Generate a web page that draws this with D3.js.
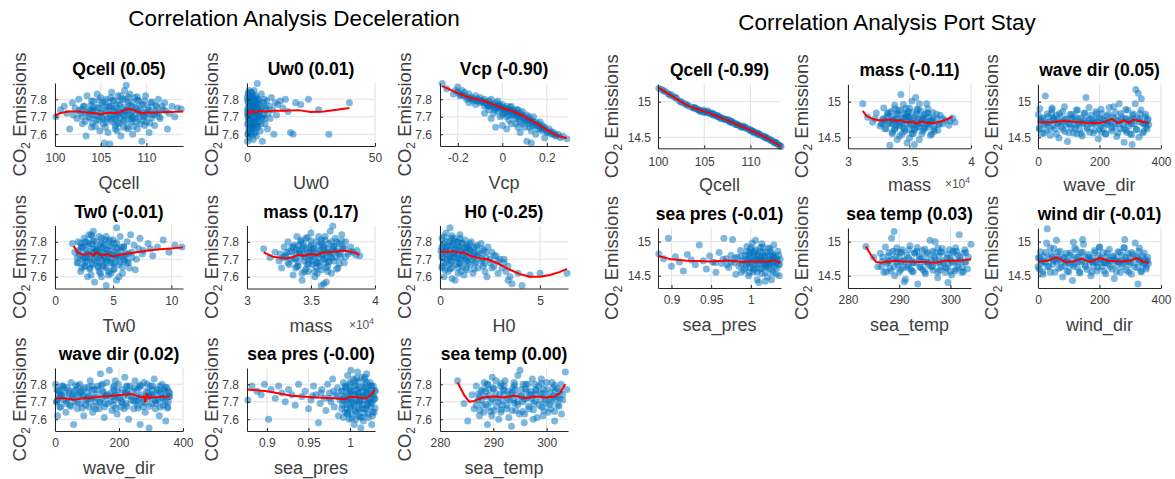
<!DOCTYPE html>
<html><head><meta charset="utf-8">
<script src="https://cdn.jsdelivr.net/npm/d3@7"></script>
<style>body{margin:0;background:#fff} text{font-family:"Liberation Sans",Arial,sans-serif}</style>
</head><body><svg id="c" width="1175" height="479"></svg>
<script>
// ---------------- DATA ----------------
const figTitles = ["Correlation Analysis Deceleration", "Correlation Analysis Port Stay"];
const yLabel = "CO";
const yTicksDecel = [7.6, 7.7, 7.8];
const yTicksPort = [14.5, 15];

// Deceleration panels
const dQcell = [[100.1,7.70],[100.6,7.74],[101.0,7.76],[101.3,7.72],[101.6,7.63],[101.9,7.78],[102.2,7.75],[102.4,7.69],[102.6,7.80],[102.8,7.72],[103.0,7.66],[103.2,7.76],[103.4,7.59],[103.5,7.82],[103.7,7.70],[103.9,7.74],[104.0,7.64],[104.2,7.79],[104.3,7.71],[104.5,7.68],[104.6,7.83],[104.8,7.75],[104.9,7.62],[105.0,7.72],[105.2,7.78],[105.3,7.66],[105.4,7.55],[105.5,7.74],[105.6,7.80],[105.7,7.69],[105.8,7.61],[105.9,7.76],[106.0,7.545],[106.1,7.71],[106.2,7.84],[106.3,7.67],[106.4,7.79],[106.5,7.73],[106.6,7.63],[106.7,7.75],[106.8,7.70],[106.9,7.82],[107.0,7.66],[107.1,7.77],[107.2,7.59],[107.3,7.72],[107.4,7.80],[107.5,7.68],[107.6,7.85],[107.7,7.74],[107.8,7.88],[107.9,7.64],[108.0,7.78],[108.1,7.71],[108.2,7.83],[108.3,7.67],[108.4,7.76],[108.5,7.60],[108.6,7.73],[108.7,7.81],[108.8,7.69],[108.9,7.75],[109.0,7.63],[109.1,7.79],[109.2,7.72],[109.3,7.66],[109.5,7.56],[109.6,7.77],[109.7,7.70],[109.9,7.82],[110.0,7.67],[110.2,7.74],[110.3,7.61],[110.5,7.78],[110.7,7.71],[110.9,7.65],[111.1,7.76],[111.3,7.80],[111.5,7.69],[111.8,7.74],[112.0,7.78],[112.3,7.63],[112.5,7.72],[112.8,7.76],[113.1,7.70],[113.4,7.75],[113.8,7.745],[104.1,7.73],[105.1,7.70],[106.05,7.76],[106.55,7.69],[107.05,7.73],[107.55,7.71],[108.05,7.74],[108.45,7.70],[109.45,7.73],[110.1,7.72],[103.6,7.73],[102.0,7.71],[111.0,7.73]];
const dQcellDense = [[103.3,7.675],[104.1,7.665],[104.8,7.68],[105.6,7.67],[106.2,7.685],[106.9,7.665],[107.6,7.675],[108.3,7.685],[108.9,7.67],[109.6,7.68],[110.4,7.665],[103.0,7.70],[103.8,7.695],[104.5,7.705],[105.2,7.69],[105.9,7.70],[106.5,7.71],[107.1,7.695],[107.8,7.705],[108.5,7.695],[109.2,7.70],[109.9,7.705],[110.6,7.695],[111.4,7.70],[102.6,7.735],[103.4,7.725],[104.2,7.735],[104.9,7.725],[105.6,7.73],[106.3,7.735],[107.0,7.725],[107.7,7.735],[108.4,7.725],[109.1,7.735],[109.8,7.725],[110.5,7.735],[111.3,7.725],[112.1,7.735],[103.1,7.76],[103.9,7.765],[104.6,7.755],[105.3,7.765],[106.0,7.755],[106.7,7.765],[107.4,7.755],[108.1,7.765],[108.8,7.755],[109.5,7.765],[110.2,7.755],[111.0,7.765],[111.7,7.76],[104.0,7.79],[104.8,7.795],[105.5,7.785],[106.3,7.795],[107.0,7.79],[107.7,7.80],[108.4,7.785],[109.1,7.795],[109.8,7.79],[110.6,7.785],[104.4,7.645],[105.5,7.64],[106.6,7.65],[107.5,7.64],[108.6,7.645],[109.8,7.65],[106.1,7.81],[107.2,7.82],[108.0,7.815],[105.0,7.81],[109.0,7.815],[106.8,7.62],[108.0,7.63],[104.2,7.755],[110.9,7.715],[102.9,7.745]];
const dQcellFit = [[100,7.705],[100.5,7.72],[101.5,7.73],[102.5,7.73],[103.5,7.725],[104.5,7.72],[105,7.715],[105.5,7.72],[106,7.725],[106.5,7.72],[107,7.725],[107.5,7.735],[108,7.745],[108.5,7.74],[109,7.73],[109.5,7.72],[110,7.725],[111,7.725],[112,7.728],[113,7.728],[114,7.73]];

const dUw0 = [[0.2,7.56],[0.3,7.66],[0.4,7.78],[0.5,7.71],[0.6,7.83],[0.7,7.62],[0.8,7.74],[0.9,7.69],[1.0,7.80],[1.1,7.58],[1.2,7.76],[1.3,7.65],[1.4,7.72],[1.5,7.84],[1.6,7.60],[1.7,7.70],[1.8,7.79],[1.9,7.67],[2.0,7.75],[2.1,7.63],[2.2,7.81],[2.3,7.71],[2.4,7.57],[2.5,7.77],[2.6,7.68],[2.7,7.73],[2.8,7.85],[2.9,7.64],[3.0,7.79],[3.1,7.70],[3.2,7.61],[3.3,7.76],[3.4,7.66],[3.5,7.82],[3.6,7.72],[3.7,7.59],[3.8,7.75],[3.9,7.69],[4.0,7.89],[4.1,7.78],[4.2,7.64],[4.4,7.73],[4.5,7.80],[4.6,7.67],[4.8,7.71],[5.0,7.77],[5.2,7.62],[5.4,7.74],[5.6,7.83],[5.8,7.69],[6.0,7.56],[6.2,7.76],[6.5,7.71],[6.8,7.80],[7.0,7.66],[7.3,7.74],[7.6,7.79],[8.0,7.63],[8.3,7.72],[8.7,7.76],[9.0,7.69],[9.5,7.81],[10.0,7.74],[10.5,7.60],[11.0,7.78],[11.5,7.71],[12.0,7.77],[13.0,7.79],[14.0,7.75],[15.0,7.80],[16.0,7.73],[17.0,7.61],[18.0,7.60],[19.0,7.78],[21.0,7.77],[24.0,7.80],[28.0,7.74],[32.0,7.60],[40.0,7.78],[0.3,7.74],[0.6,7.68],[1.0,7.71],[1.3,7.79],[1.7,7.75],[2.0,7.69],[2.4,7.73],[2.8,7.66],[3.2,7.72],[3.6,7.78],[4.3,7.70],[0.1,7.81],[0.2,7.72],[0.5,7.60],[0.8,7.85],[1.2,7.64],[1.6,7.73],[2.2,7.75],[2.6,7.80],[3.0,7.67],[3.4,7.74]];
const dUw0Dense = [[0.3,7.60],[1.5,7.615],[2.8,7.605],[0.8,7.63],[2.0,7.64],[3.5,7.635],[0.4,7.655],[1.6,7.66],[3.0,7.665],[4.2,7.655],[0.9,7.68],[2.2,7.685],[3.6,7.69],[0.3,7.70],[1.4,7.705],[2.7,7.70],[4.0,7.71],[0.8,7.725],[2.0,7.73],[3.3,7.725],[5.0,7.73],[0.4,7.75],[1.5,7.745],[2.9,7.755],[4.3,7.75],[0.9,7.77],[2.2,7.775],[3.6,7.77],[0.3,7.795],[1.6,7.79],[2.9,7.80],[4.5,7.795],[1.0,7.815],[2.3,7.82],[3.5,7.81],[0.5,7.835],[1.9,7.84],[6.0,7.70],[7.5,7.75],[6.5,7.78],[5.5,7.66],[7.0,7.69]];
const dUw0Fit = [[0,7.71],[0.5,7.73],[1,7.72],[2,7.735],[3,7.725],[4,7.728],[5,7.735],[7,7.73],[10,7.735],[15,7.735],[20,7.738],[25,7.727],[30,7.73],[35,7.74],[40,7.75]];

const dVcp = [[-0.27,7.89],[-0.25,7.86],[-0.22,7.83],[-0.2,7.87],[-0.19,7.82],[-0.17,7.84],[-0.16,7.80],[-0.15,7.83],[-0.14,7.81],[-0.13,7.79],[-0.12,7.82],[-0.11,7.80],[-0.1,7.78],[-0.1,7.81],[-0.09,7.79],[-0.08,7.76],[-0.08,7.80],[-0.07,7.78],[-0.06,7.74],[-0.06,7.79],[-0.05,7.77],[-0.05,7.80],[-0.04,7.76],[-0.04,7.72],[-0.03,7.78],[-0.03,7.75],[-0.02,7.79],[-0.02,7.73],[-0.01,7.76],[-0.01,7.70],[0,7.77],[0,7.74],[0,7.65],[0.01,7.75],[0.01,7.72],[0.02,7.76],[0.02,7.70],[0.03,7.74],[0.03,7.68],[0.04,7.73],[0.04,7.76],[0.05,7.71],[0.05,7.74],[0.06,7.66],[0.06,7.72],[0.07,7.74],[0.07,7.70],[0.08,7.72],[0.08,7.67],[0.09,7.70],[0.09,7.73],[0.1,7.69],[0.1,7.64],[0.11,7.71],[0.11,7.68],[0.12,7.66],[0.12,7.70],[0.13,7.68],[0.13,7.62],[0.14,7.67],[0.14,7.70],[0.15,7.65],[0.15,7.60],[0.16,7.66],[0.17,7.63],[0.17,7.67],[0.18,7.62],[0.19,7.64],[0.19,7.58],[0.2,7.61],[0.21,7.63],[0.22,7.60],[0.23,7.61],[0.24,7.59],[0.25,7.60],[0.26,7.58],[0.27,7.59],[0.29,7.575],[-0.21,7.85],[-0.18,7.85],[-0.03,7.64],[-0.05,7.69],[0.02,7.63],[-0.08,7.72],[0.08,7.61],[0.11,7.56],[0.13,7.55],[0.04,7.66],[-0.12,7.77],[-0.15,7.78],[0.0,7.71],[0.03,7.71],[0.06,7.69],[0.09,7.66],[-0.02,7.76],[0.16,7.63],[0.18,7.65],[0.12,7.64],[-0.06,7.76],[0.07,7.64]];
const dVcpDense = [[-0.2,7.84],[-0.19,7.83],[-0.18,7.825],[-0.17,7.82],[-0.16,7.815],[-0.15,7.805],[-0.14,7.80],[-0.13,7.805],[-0.12,7.795],[-0.11,7.79],[-0.1,7.795],[-0.09,7.785],[-0.08,7.785],[-0.07,7.77],[-0.06,7.775],[-0.05,7.765],[-0.04,7.77],[-0.03,7.755],[-0.02,7.76],[-0.01,7.745],[0,7.755],[0.01,7.74],[0.02,7.745],[0.03,7.73],[0.04,7.735],[0.05,7.72],[0.06,7.725],[0.07,7.71],[0.08,7.705],[0.09,7.71],[0.1,7.695],[0.11,7.69],[0.12,7.68],[0.13,7.675],[0.14,7.66],[0.15,7.67],[0.16,7.65],[0.17,7.645],[0.18,7.635],[0.19,7.63],[0.2,7.62],[0.21,7.61],[0.22,7.615],[0.23,7.60],[0.24,7.595],[0.015,7.725],[0.045,7.71],[0.075,7.69],[0.105,7.675],[-0.035,7.74],[-0.065,7.76],[0.135,7.65],[0.035,7.755],[-0.015,7.77],[0.065,7.74]];
const dVcpFit = [[-0.27,7.875],[-0.2,7.835],[-0.15,7.81],[-0.1,7.795],[-0.08,7.79],[-0.05,7.775],[0,7.75],[0.05,7.73],[0.1,7.7],[0.15,7.665],[0.2,7.625],[0.24,7.595],[0.28,7.58],[0.29,7.578]];

const dTw0 = [[1.5,7.79],[1.7,7.74],[1.9,7.68],[2.0,7.80],[2.1,7.72],[2.2,7.63],[2.3,7.77],[2.4,7.70],[2.5,7.82],[2.6,7.66],[2.7,7.75],[2.8,7.60],[2.9,7.79],[3.0,7.71],[3.1,7.84],[3.2,7.67],[3.3,7.74],[3.4,7.57],[3.5,7.80],[3.6,7.69],[3.7,7.76],[3.8,7.63],[3.9,7.72],[4.0,7.82],[4.1,7.66],[4.2,7.78],[4.3,7.70],[4.4,7.55],[4.5,7.75],[4.6,7.61],[4.7,7.81],[4.8,7.68],[4.9,7.73],[5.0,7.64],[5.1,7.79],[5.2,7.71],[5.3,7.58],[5.4,7.76],[5.5,7.67],[5.6,7.83],[5.7,7.72],[5.8,7.62],[5.9,7.77],[6.0,7.69],[6.2,7.80],[6.4,7.65],[6.6,7.74],[6.8,7.78],[7.0,7.70],[7.3,7.82],[7.6,7.75],[8.0,7.79],[8.4,7.72],[8.8,7.77],[9.3,7.81],[9.8,7.74],[10.3,7.78],[10.9,7.77],[5.3,7.88],[3.3,7.86],[2.0,7.75],[2.4,7.77],[2.8,7.73],[3.0,7.65],[3.2,7.79],[3.5,7.74],[3.7,7.66],[3.9,7.78],[4.1,7.74],[4.3,7.81],[4.5,7.69],[4.7,7.73],[4.9,7.77],[5.1,7.68],[5.4,7.72],[5.7,7.77],[6.1,7.73],[2.6,7.71],[3.6,7.73],[4.4,7.76],[2.2,7.79],[2.9,7.84],[3.4,7.70],[3.8,7.83],[4.0,7.60],[4.6,7.71],[5.0,7.81],[5.5,7.60],[6.3,7.68],[6.9,7.64],[4.2,7.66],[3.1,7.61],[2.5,7.66],[4.8,7.62],[5.9,7.70],[7.2,7.76],[6.5,7.84],[3.3,7.76],[4.0,7.72],[2.7,7.80]];
const dTw0Dense = [[2.3,7.65],[3.0,7.645],[3.7,7.655],[4.4,7.65],[5.1,7.645],[5.8,7.655],[2.0,7.68],[2.6,7.685],[3.2,7.675],[3.8,7.68],[4.4,7.685],[5.0,7.675],[5.6,7.685],[6.2,7.68],[1.9,7.71],[2.4,7.715],[3.0,7.705],[3.6,7.71],[4.2,7.715],[4.8,7.705],[5.4,7.71],[6.0,7.715],[6.6,7.71],[2.1,7.745],[2.7,7.735],[3.3,7.74],[3.9,7.745],[4.5,7.735],[5.1,7.74],[5.7,7.745],[6.3,7.735],[2.3,7.77],[2.9,7.775],[3.5,7.765],[4.1,7.77],[4.7,7.775],[5.3,7.765],[5.9,7.77],[2.6,7.80],[3.3,7.805],[4.0,7.795],[4.6,7.80],[5.3,7.795],[3.9,7.62],[4.6,7.63],[3.2,7.83],[4.4,7.83],[7.5,7.73],[8.2,7.76],[2.75,7.69],[4.05,7.695],[5.25,7.725],[3.55,7.75]];
const dTw0Fit = [[1.6,7.775],[2,7.735],[2.5,7.725],[3,7.735],[3.3,7.72],[3.6,7.74],[4,7.72],[4.5,7.73],[5,7.715],[5.5,7.725],[6,7.73],[7,7.74],[8,7.75],[9,7.757],[10,7.762],[11,7.768]];

const dMass = [[3.13,7.76],[3.18,7.71],[3.22,7.74],[3.25,7.69],[3.27,7.65],[3.29,7.77],[3.30,7.72],[3.32,7.80],[3.33,7.67],[3.35,7.74],[3.36,7.61],[3.37,7.78],[3.38,7.70],[3.39,7.83],[3.40,7.66],[3.41,7.75],[3.42,7.72],[3.43,7.58],[3.44,7.79],[3.45,7.69],[3.46,7.82],[3.47,7.74],[3.48,7.63],[3.49,7.77],[3.50,7.71],[3.50,7.85],[3.51,7.67],[3.52,7.76],[3.53,7.60],[3.54,7.80],[3.55,7.73],[3.55,7.68],[3.56,7.83],[3.57,7.75],[3.58,7.64],[3.59,7.78],[3.60,7.70],[3.60,7.56],[3.61,7.81],[3.62,7.74],[3.63,7.66],[3.64,7.79],[3.65,7.72],[3.65,7.86],[3.66,7.62],[3.67,7.76],[3.68,7.69],[3.69,7.82],[3.70,7.74],[3.71,7.65],[3.72,7.79],[3.73,7.71],[3.74,7.84],[3.75,7.76],[3.76,7.68],[3.77,7.80],[3.79,7.73],[3.81,7.77],[3.83,7.74],[3.86,7.75],[3.88,7.72],[3.67,7.89],[3.45,7.63],[3.58,7.55],[3.62,7.57],[3.34,7.70],[3.40,7.78],[3.44,7.73],[3.48,7.70],[3.52,7.73],[3.56,7.71],[3.60,7.76],[3.64,7.74],[3.68,7.77],[3.72,7.73],[3.54,7.68],[3.46,7.76],[3.38,7.74],[3.31,7.74],[3.28,7.71],[3.42,7.81],[3.50,7.78],[3.58,7.81],[3.66,7.71],[3.70,7.80],[3.53,7.63],[3.63,7.63],[3.39,7.66],[3.47,7.67],[3.57,7.66],[3.35,7.77],[3.43,7.76],[3.51,7.75],[3.59,7.73],[3.61,7.68],[3.69,7.75],[3.74,7.77],[3.49,7.72],[3.56,7.78],[3.64,7.69]];
const dMassDense = [[3.38,7.65],[3.46,7.645],[3.54,7.655],[3.62,7.65],[3.70,7.645],[3.32,7.68],[3.40,7.685],[3.48,7.675],[3.56,7.68],[3.64,7.685],[3.72,7.675],[3.30,7.715],[3.37,7.705],[3.45,7.71],[3.53,7.715],[3.61,7.705],[3.69,7.71],[3.77,7.715],[3.33,7.745],[3.41,7.735],[3.49,7.74],[3.57,7.745],[3.65,7.735],[3.73,7.74],[3.81,7.745],[3.36,7.77],[3.44,7.775],[3.52,7.765],[3.60,7.77],[3.68,7.775],[3.76,7.765],[3.42,7.80],[3.50,7.805],[3.58,7.795],[3.66,7.80],[3.74,7.805],[3.47,7.825],[3.61,7.83],[3.55,7.62],[3.43,7.62],[3.85,7.725],[3.26,7.73],[3.59,7.72],[3.51,7.69],[3.63,7.76],[3.39,7.755]];
const dMassFit = [[3.13,7.74],[3.2,7.715],[3.3,7.705],[3.35,7.71],[3.4,7.725],[3.45,7.72],[3.5,7.73],[3.55,7.725],[3.6,7.74],[3.65,7.74],[3.7,7.745],[3.75,7.75],[3.8,7.745],[3.85,7.735],[3.88,7.725]];

const dH0 = [[0.05,7.75],[0.1,7.82],[0.1,7.66],[0.15,7.71],[0.2,7.79],[0.2,7.60],[0.25,7.74],[0.3,7.85],[0.3,7.68],[0.35,7.77],[0.4,7.72],[0.4,7.63],[0.45,7.80],[0.5,7.75],[0.5,7.88],[0.55,7.69],[0.6,7.78],[0.6,7.65],[0.65,7.73],[0.7,7.82],[0.7,7.71],[0.75,7.58],[0.8,7.76],[0.8,7.67],[0.85,7.80],[0.9,7.73],[0.9,7.62],[0.95,7.77],[1.0,7.70],[1.0,7.84],[1.05,7.75],[1.1,7.66],[1.1,7.79],[1.15,7.72],[1.2,7.61],[1.2,7.76],[1.25,7.81],[1.3,7.69],[1.3,7.74],[1.35,7.64],[1.4,7.78],[1.45,7.71],[1.5,7.67],[1.5,7.75],[1.55,7.80],[1.6,7.70],[1.65,7.62],[1.7,7.74],[1.75,7.68],[1.8,7.77],[1.85,7.72],[1.9,7.65],[2.0,7.73],[2.05,7.79],[2.1,7.69],[2.2,7.75],[2.25,7.63],[2.3,7.71],[2.4,7.77],[2.5,7.68],[2.6,7.74],[2.7,7.66],[2.8,7.72],[2.9,7.62],[3.0,7.70],[3.1,7.65],[3.2,7.68],[3.3,7.63],[3.4,7.58],[3.6,7.56],[3.9,7.62],[4.1,7.55],[4.5,7.61],[5.0,7.62],[6.35,7.62],[0.15,7.77],[0.35,7.70],[0.55,7.82],[0.75,7.76],[0.95,7.68],[0.25,7.64],[0.45,7.67],[0.65,7.79],[0.85,7.71],[1.05,7.63],[1.25,7.70],[1.45,7.76],[1.65,7.73],[1.85,7.78],[2.15,7.66],[0.1,7.73],[0.3,7.76],[0.5,7.71],[0.7,7.74],[0.9,7.80],[1.1,7.72],[1.35,7.77],[0.6,7.59],[2.35,7.60],[3.5,7.60]];
const dH0Dense = [[0.1,7.65],[0.5,7.645],[0.9,7.655],[1.3,7.65],[1.7,7.645],[0.2,7.68],[0.6,7.685],[1.0,7.675],[1.4,7.68],[1.8,7.685],[2.2,7.675],[0.1,7.71],[0.5,7.715],[0.9,7.705],[1.3,7.71],[1.7,7.715],[2.1,7.705],[2.5,7.70],[0.3,7.745],[0.7,7.735],[1.1,7.74],[1.5,7.745],[1.9,7.735],[2.3,7.74],[2.7,7.72],[0.1,7.77],[0.5,7.775],[0.9,7.765],[1.3,7.77],[1.7,7.765],[2.1,7.76],[0.3,7.80],[0.7,7.805],[1.1,7.795],[1.5,7.79],[0.2,7.83],[0.6,7.835],[1.0,7.82],[3.2,7.70],[2.9,7.69],[3.4,7.66],[2.6,7.65]];
const dH0Fit = [[0,7.745],[0.3,7.742],[0.6,7.746],[0.9,7.738],[1.2,7.74],[1.5,7.72],[2,7.705],[2.4,7.7],[3,7.67],[3.5,7.64],[4,7.615],[4.5,7.6],[5,7.6],[5.5,7.61],[6,7.628],[6.35,7.645]];

const dWaveDir = [[2,7.80],[5,7.70],[8,7.62],[12,7.76],[15,7.73],[18,7.67],[22,7.79],[26,7.71],[30,7.75],[34,7.64],[38,7.78],[42,7.72],[46,7.68],[50,7.81],[54,7.74],[58,7.57],[62,7.70],[66,7.77],[70,7.66],[74,7.74],[78,7.80],[82,7.69],[86,7.73],[90,7.62],[94,7.78],[98,7.71],[102,7.75],[106,7.67],[110,7.82],[114,7.72],[118,7.64],[122,7.77],[126,7.70],[130,7.74],[134,7.79],[138,7.66],[142,7.86],[146,7.72],[150,7.76],[154,7.61],[158,7.73],[162,7.81],[166,7.69],[170,7.88],[174,7.75],[178,7.65],[182,7.78],[186,7.71],[190,7.74],[194,7.63],[198,7.80],[202,7.72],[206,7.67],[210,7.77],[214,7.73],[218,7.84],[222,7.69],[226,7.75],[230,7.60],[234,7.79],[238,7.71],[242,7.76],[246,7.66],[250,7.82],[254,7.73],[258,7.68],[262,7.78],[266,7.57],[270,7.74],[274,7.70],[278,7.81],[282,7.64],[286,7.76],[290,7.72],[294,7.55],[298,7.79],[302,7.69],[306,7.74],[310,7.83],[314,7.66],[318,7.77],[322,7.71],[326,7.62],[330,7.75],[334,7.80],[338,7.68],[342,7.73],[346,7.59],[350,7.78],[354,7.70],[358,7.75],[20,7.74],[60,7.76],[100,7.72],[140,7.70],[180,7.73],[220,7.75],[260,7.71],[300,7.74],[340,7.77],[10,7.72],[28,7.78],[44,7.75],[64,7.73],[80,7.76],[96,7.68],[116,7.79],[128,7.66],[148,7.80],[164,7.74],[184,7.68],[196,7.76],[208,7.70],[224,7.79],[240,7.73],[252,7.70],[268,7.79],[276,7.67],[288,7.80],[296,7.73],[304,7.77],[312,7.71],[320,7.75],[328,7.79],[336,7.72],[344,7.76],[352,7.67],[356,7.73],[6,7.77],[36,7.69],[72,7.79],[88,7.77],[108,7.73],[132,7.77],[156,7.69],[188,7.82],[216,7.66],[248,7.78],[284,7.73],[316,7.69]];
const dWaveDirDense = [[15,7.67],[50,7.675],[85,7.665],[120,7.675],[155,7.67],[190,7.665],[225,7.675],[260,7.665],[295,7.675],[330,7.67],[352,7.665],[5,7.70],[35,7.705],[70,7.695],[105,7.705],[140,7.695],[175,7.705],[210,7.695],[245,7.705],[280,7.695],[315,7.705],[345,7.70],[20,7.735],[55,7.725],[90,7.735],[125,7.725],[160,7.735],[195,7.725],[230,7.735],[265,7.725],[300,7.735],[335,7.725],[358,7.73],[10,7.76],[45,7.765],[80,7.755],[115,7.765],[150,7.755],[185,7.765],[220,7.755],[255,7.765],[290,7.755],[325,7.765],[355,7.76],[25,7.79],[65,7.795],[105,7.785],[145,7.795],[185,7.79],[225,7.785],[265,7.795],[305,7.79],[345,7.785]];
const dWaveDirFit = [[0,7.72],[30,7.72],[60,7.712],[90,7.72],[120,7.725],[150,7.73],[180,7.735],[210,7.74],[235,7.745],[255,7.735],[270,7.725],[278,7.73],[282,7.70],[287,7.745],[292,7.72],[300,7.725],[330,7.728],[360,7.73]];

const dSeaPres = [[0.877,7.71],[0.882,7.79],[0.888,7.76],[0.893,7.74],[0.897,7.80],[0.902,7.60],[0.905,7.77],[0.91,7.72],[0.914,7.79],[0.918,7.75],[0.922,7.70],[0.926,7.77],[0.93,7.74],[0.934,7.68],[0.938,7.80],[0.942,7.73],[0.946,7.76],[0.95,7.66],[0.953,7.71],[0.956,7.79],[0.959,7.74],[0.962,7.58],[0.964,7.69],[0.966,7.77],[0.969,7.72],[0.971,7.65],[0.973,7.80],[0.975,7.75],[0.977,7.70],[0.979,7.83],[0.981,7.67],[0.983,7.74],[0.985,7.78],[0.986,7.62],[0.988,7.71],[0.99,7.76],[0.991,7.68],[0.992,7.81],[0.993,7.73],[0.994,7.64],[0.995,7.78],[0.996,7.70],[0.997,7.85],[0.998,7.75],[0.999,7.60],[1.0,7.72],[1.0,7.80],[1.001,7.67],[1.002,7.76],[1.003,7.70],[1.004,7.83],[1.005,7.57],[1.005,7.74],[1.006,7.65],[1.007,7.79],[1.008,7.71],[1.009,7.87],[1.01,7.75],[1.01,7.62],[1.011,7.69],[1.012,7.78],[1.013,7.73],[1.014,7.84],[1.015,7.66],[1.015,7.76],[1.016,7.59],[1.017,7.71],[1.018,7.80],[1.019,7.74],[1.02,7.68],[1.02,7.86],[1.021,7.63],[1.022,7.77],[1.023,7.72],[1.024,7.81],[1.025,7.67],[1.025,7.75],[1.026,7.57],[1.027,7.70],[1.028,7.79],[1.029,7.64],[1.03,7.76],[1.03,7.72],[0.992,7.72],[0.996,7.66],[1.0,7.76],[1.004,7.68],[1.008,7.77],[1.012,7.70],[1.016,7.73],[1.02,7.75],[1.024,7.70],[1.028,7.73],[0.994,7.79],[0.998,7.71],[1.002,7.63],[1.006,7.82],[1.011,7.66],[1.014,7.61],[1.018,7.66],[1.022,7.69],[1.026,7.79],[1.013,7.55],[1.001,7.88],[1.007,7.60],[1.017,7.83],[1.027,7.62],[0.997,7.63],[1.009,7.73],[1.019,7.78]];
const dSeaPresDense = [[0.992,7.61],[1.002,7.605],[1.012,7.615],[1.022,7.61],[0.997,7.635],[1.007,7.64],[1.017,7.635],[1.027,7.64],[0.99,7.66],[1.0,7.665],[1.01,7.655],[1.02,7.66],[1.03,7.665],[0.995,7.685],[1.005,7.69],[1.015,7.685],[1.025,7.69],[0.991,7.71],[1.001,7.715],[1.011,7.705],[1.021,7.71],[1.029,7.715],[0.996,7.735],[1.006,7.74],[1.016,7.735],[1.026,7.74],[0.99,7.76],[1.0,7.765],[1.01,7.755],[1.02,7.76],[1.03,7.765],[0.995,7.785],[1.005,7.79],[1.015,7.785],[1.025,7.79],[1.0,7.81],[1.01,7.815],[1.02,7.81],[1.008,7.835],[1.018,7.84],[0.985,7.73],[0.98,7.76],[0.975,7.72],[0.965,7.75],[0.955,7.735]];
const dSeaPresFit = [[0.877,7.77],[0.9,7.76],[0.93,7.735],[0.96,7.725],[0.98,7.72],[0.995,7.715],[1.0,7.73],[1.01,7.725],[1.02,7.72],[1.025,7.74],[1.03,7.77]];

const dSeaTemp = [[283.3,7.82],[284.5,7.69],[285.2,7.59],[286.0,7.74],[286.4,7.66],[286.8,7.79],[287.1,7.71],[287.4,7.62],[287.7,7.76],[288.0,7.68],[288.3,7.81],[288.6,7.73],[288.9,7.57],[289.2,7.77],[289.5,7.70],[289.8,7.84],[290.1,7.65],[290.4,7.75],[290.7,7.72],[291.0,7.60],[291.3,7.79],[291.6,7.68],[291.9,7.74],[292.2,7.82],[292.5,7.66],[292.8,7.76],[293.1,7.71],[293.4,7.56],[293.7,7.78],[294.0,7.69],[294.3,7.74],[294.6,7.85],[294.9,7.63],[295.2,7.77],[295.5,7.70],[295.8,7.58],[296.1,7.80],[296.4,7.72],[296.7,7.66],[297.0,7.76],[297.3,7.83],[297.6,7.69],[297.9,7.74],[298.2,7.61],[298.5,7.79],[298.8,7.71],[299.1,7.67],[299.4,7.77],[299.7,7.73],[300.0,7.81],[300.3,7.64],[300.6,7.75],[300.9,7.70],[301.2,7.78],[301.5,7.59],[301.8,7.73],[302.1,7.68],[302.5,7.76],[303.0,7.71],[303.5,7.87],[303.8,7.77],[295.0,7.88],[287.5,7.73],[288.5,7.76],[289.0,7.67],[290.0,7.78],[290.9,7.70],[291.8,7.77],[292.7,7.72],[293.5,7.75],[294.5,7.70],[295.3,7.73],[296.2,7.76],[297.2,7.72],[298.0,7.77],[298.9,7.75],[299.8,7.69],[300.7,7.72],[301.6,7.76],[302.4,7.72],[288.2,7.64],[289.7,7.62],[291.4,7.64],[292.9,7.61],[294.2,7.65],[295.9,7.63],[297.5,7.60],[299.3,7.62],[300.8,7.66],[302.8,7.63],[288.8,7.80],[290.5,7.82],[292.0,7.79],[293.9,7.81],[295.6,7.80],[297.8,7.80],[299.0,7.83],[301.0,7.81],[302.7,7.80],[296.8,7.74]];
const dSeaTempDense = [[287.5,7.65],[289.5,7.645],[291.5,7.655],[293.5,7.65],[295.5,7.645],[297.5,7.655],[299.5,7.65],[301.5,7.645],[286.8,7.68],[288.6,7.685],[290.6,7.675],[292.6,7.68],[294.6,7.685],[296.6,7.675],[298.6,7.68],[300.6,7.685],[302.3,7.675],[287.8,7.71],[289.8,7.715],[291.8,7.705],[293.8,7.71],[295.8,7.715],[297.8,7.705],[299.8,7.71],[301.8,7.715],[287.2,7.745],[289.2,7.735],[291.2,7.74],[293.2,7.745],[295.2,7.735],[297.2,7.74],[299.2,7.745],[301.2,7.735],[303.0,7.74],[288.0,7.77],[290.0,7.775],[292.0,7.765],[294.0,7.77],[296.0,7.775],[298.0,7.765],[300.0,7.77],[302.0,7.775],[289.0,7.80],[291.5,7.805],[294.0,7.795],[296.5,7.80],[299.0,7.805],[301.5,7.795]];
const dSeaTempFit = [[283.3,7.81],[284.5,7.74],[285.5,7.70],[286.5,7.705],[288,7.725],[290,7.73],[292,7.725],[294,7.735],[296,7.72],[298,7.73],[300,7.725],[301.5,7.73],[302.5,7.75],[303.5,7.8]];

// Port stay panels
const pQcell = [[100.1,15.19],[100.4,15.17],[100.8,15.14],[101.1,15.11],[101.4,15.10],[101.7,15.07],[102.0,15.05],[102.3,15.01],[102.6,14.99],[102.9,14.97],[103.2,14.95],[103.5,14.93],[103.8,14.91],[104.1,14.90],[104.3,14.89],[104.5,14.88],[104.7,14.87],[104.9,14.88],[105.1,14.86],[105.3,14.85],[105.5,14.84],[105.7,14.83],[105.9,14.82],[106.1,14.81],[106.3,14.80],[106.5,14.79],[106.7,14.78],[106.9,14.77],[107.1,14.76],[107.3,14.75],[107.5,14.74],[107.7,14.73],[107.9,14.72],[108.1,14.70],[108.3,14.70],[108.5,14.68],[108.7,14.67],[108.9,14.66],[109.1,14.65],[109.3,14.64],[109.5,14.63],[109.7,14.62],[109.9,14.60],[110.1,14.59],[110.3,14.58],[110.5,14.57],[110.7,14.56],[110.9,14.55],[111.1,14.53],[111.3,14.52],[111.5,14.51],[111.7,14.49],[111.9,14.48],[112.1,14.47],[112.3,14.45],[112.5,14.44],[112.7,14.43],[112.9,14.41],[113.1,14.39],[113.3,14.37],[104.6,14.86],[105.4,14.87],[106.0,14.83],[106.8,14.76],[107.6,14.75],[108.4,14.68],[109.2,14.66],[110.0,14.61],[110.8,14.54],[111.6,14.50],[105.0,14.85],[106.4,14.81],[107.8,14.71],[109.0,14.64],[110.4,14.56],[111.8,14.49],[108.0,14.72],[105.8,14.84],[104.0,14.92],[112.6,14.42]];
const pQcellDense = [[100.6,15.155],[101.3,15.09],[101.9,15.06],[102.5,15.0],[103.1,14.955],[103.9,14.915],[104.4,14.885],[105.2,14.86],[105.9,14.825],[106.6,14.79],[107.2,14.755],[107.9,14.725],[108.6,14.68],[109.4,14.64],[110.2,14.59],[110.9,14.545],[111.5,14.505],[112.2,14.46],[112.8,14.42],[113.2,14.385]];
const pQcellFit = [[100,15.2],[101,15.12],[102,15.04],[103,14.96],[103.5,14.93],[104,14.905],[105,14.865],[106,14.815],[107,14.765],[108,14.71],[109,14.655],[110,14.6],[111,14.54],[112,14.47],[113,14.4],[113.3,14.37]];

const pMass = [[3.12,14.97],[3.16,14.78],[3.2,14.71],[3.23,14.84],[3.26,14.66],[3.28,14.75],[3.29,14.91],[3.31,14.62],[3.32,14.80],[3.33,14.70],[3.35,14.86],[3.36,14.57],[3.37,14.74],[3.38,14.95],[3.39,14.66],[3.40,14.82],[3.41,14.71],[3.42,14.52],[3.43,14.88],[3.44,14.77],[3.45,14.63],[3.46,14.83],[3.47,14.69],[3.48,14.42],[3.49,14.79],[3.50,14.91],[3.50,14.61],[3.51,14.73],[3.52,14.85],[3.53,14.55],[3.54,14.68],[3.55,14.80],[3.55,15.06],[3.56,14.64],[3.57,14.75],[3.58,14.47],[3.59,14.87],[3.60,14.70],[3.61,14.59],[3.62,14.82],[3.63,14.73],[3.64,14.97],[3.65,14.64],[3.66,14.78],[3.67,14.53],[3.68,14.72],[3.69,14.85],[3.70,14.66],[3.72,14.76],[3.73,14.60],[3.75,14.81],[3.77,14.69],[3.79,14.74],[3.82,14.67],[3.85,14.77],[3.87,14.71],[3.43,15.1],[3.34,14.39],[3.54,14.40],[3.52,15.01],[3.30,14.73],[3.36,14.69],[3.40,14.76],[3.44,14.71],[3.48,14.74],[3.52,14.68],[3.56,14.72],[3.60,14.76],[3.64,14.69],[3.68,14.74],[3.38,14.61],[3.46,14.58],[3.54,14.60],[3.62,14.63],[3.70,14.58],[3.33,14.85],[3.41,14.88],[3.49,14.86],[3.57,14.89],[3.65,14.84],[3.28,14.69],[3.35,14.78],[3.42,14.66],[3.50,14.77],[3.58,14.65],[3.66,14.72],[3.74,14.68],[3.47,14.79],[3.61,14.78],[3.39,14.73]];
const pMassDense = [[3.36,14.55],[3.44,14.545],[3.52,14.555],[3.60,14.55],[3.68,14.545],[3.30,14.62],[3.38,14.625],[3.46,14.615],[3.54,14.62],[3.62,14.625],[3.70,14.615],[3.27,14.69],[3.34,14.695],[3.42,14.685],[3.50,14.69],[3.58,14.695],[3.66,14.685],[3.74,14.69],[3.29,14.765],[3.37,14.755],[3.45,14.76],[3.53,14.765],[3.61,14.755],[3.69,14.76],[3.77,14.765],[3.32,14.83],[3.40,14.835],[3.48,14.825],[3.56,14.83],[3.64,14.835],[3.72,14.825],[3.38,14.90],[3.47,14.905],[3.56,14.895],[3.65,14.90],[3.45,14.96],[3.58,14.97],[3.50,14.49],[3.40,14.47],[3.83,14.73],[3.22,14.76]];
const pMassFit = [[3.12,14.87],[3.15,14.8],[3.2,14.76],[3.25,14.74],[3.3,14.74],[3.35,14.75],[3.4,14.73],[3.43,14.745],[3.45,14.72],[3.5,14.71],[3.53,14.725],[3.55,14.69],[3.6,14.72],[3.65,14.7],[3.7,14.7],[3.75,14.72],[3.8,14.75],[3.85,14.79]];

const pWaveDir = [[1,14.82],[4,14.63],[8,14.72],[12,14.55],[16,14.77],[20,14.68],[24,15.08],[28,14.60],[32,14.79],[36,14.71],[40,14.53],[44,14.84],[48,14.66],[52,14.75],[56,14.62],[60,14.81],[64,14.70],[68,14.49],[72,14.78],[76,14.65],[80,14.86],[84,14.72],[88,14.58],[92,14.76],[96,14.44],[100,14.69],[104,14.82],[108,14.63],[112,14.74],[116,14.56],[120,14.79],[124,14.67],[128,14.88],[132,14.72],[136,14.61],[140,14.77],[144,14.52],[148,14.70],[152,14.84],[156,15.06],[160,14.64],[164,14.75],[168,14.57],[172,14.81],[176,14.69],[180,14.73],[184,14.60],[188,14.86],[192,14.71],[196,14.48],[200,14.77],[204,14.66],[208,14.83],[212,14.62],[216,14.74],[220,14.55],[224,14.80],[228,14.68],[232,14.92],[236,14.71],[240,14.59],[244,14.78],[248,14.65],[252,14.85],[256,14.51],[260,14.73],[264,14.97],[268,14.62],[272,14.79],[276,14.68],[280,14.43],[284,14.76],[288,14.57],[292,14.88],[296,14.66],[300,14.74],[304,14.54],[308,14.81],[312,14.69],[316,14.97],[320,14.61],[324,14.77],[328,14.50],[332,14.83],[336,15.04],[340,14.70],[344,14.58],[348,14.79],[352,14.65],[356,14.74],[360,14.68],[10,14.74],[30,14.70],[50,14.77],[70,14.72],[90,14.68],[110,14.77],[130,14.69],[150,14.74],[170,14.70],[190,14.76],[210,14.70],[230,14.73],[250,14.69],[270,14.75],[290,14.71],[310,14.76],[330,14.72],[350,14.69],[318,15.17],[326,15.12],[6,14.90],[46,14.91],[86,14.93],[126,14.55],[166,14.92],[206,14.57],[246,14.93],[286,14.60],[306,14.40]];
const pWaveDirDense = [[20,14.56],[60,14.55],[100,14.565],[140,14.55],[180,14.56],[220,14.545],[260,14.56],[300,14.55],[340,14.56],[5,14.62],[40,14.625],[80,14.615],[120,14.625],[160,14.62],[200,14.615],[240,14.625],[280,14.62],[320,14.615],[355,14.62],[25,14.69],[65,14.695],[105,14.685],[145,14.695],[185,14.69],[225,14.685],[265,14.695],[305,14.69],[345,14.685],[10,14.76],[50,14.765],[90,14.755],[130,14.765],[170,14.76],[210,14.755],[250,14.765],[290,14.76],[330,14.755],[358,14.76],[30,14.83],[70,14.835],[110,14.825],[150,14.835],[190,14.83],[230,14.825],[270,14.835],[310,14.83],[350,14.825],[45,14.89],[125,14.885],[205,14.895],[285,14.89],[335,14.885]];
const pWaveDirFit = [[0,14.71],[50,14.71],[80,14.73],[120,14.72],[160,14.70],[200,14.70],[220,14.72],[240,14.76],[260,14.70],[280,14.74],[295,14.70],[310,14.75],[330,14.73],[360,14.70]];

const pSeaPres = [[0.884,14.82],[0.89,14.75],[0.896,15.05],[0.9,14.64],[0.905,14.78],[0.91,14.70],[0.915,14.57],[0.92,14.81],[0.925,14.73],[0.93,14.66],[0.935,14.95],[0.94,14.72],[0.944,14.60],[0.948,14.79],[0.952,14.70],[0.956,14.55],[0.96,14.84],[0.963,14.68],[0.966,15.05],[0.969,14.75],[0.972,14.62],[0.975,14.80],[0.977,15.03],[0.979,14.69],[0.981,14.52],[0.983,14.77],[0.985,14.64],[0.987,14.87],[0.989,14.72],[0.991,14.58],[0.993,14.80],[0.994,14.67],[0.995,14.93],[0.996,14.74],[0.997,14.50],[0.998,14.83],[0.999,14.62],[1.0,14.76],[1.001,14.70],[1.002,14.98],[1.003,14.56],[1.004,14.79],[1.005,14.66],[1.006,14.88],[1.007,14.73],[1.008,14.44],[1.009,14.81],[1.01,14.69],[1.011,14.60],[1.012,14.85],[1.013,14.75],[1.014,14.53],[1.015,14.92],[1.016,14.68],[1.017,14.78],[1.018,14.63],[1.019,14.84],[1.02,14.71],[1.021,14.48],[1.022,14.80],[1.023,14.66],[1.024,14.90],[1.025,14.74],[1.026,14.58],[1.027,14.82],[1.028,14.69],[1.029,14.95],[1.03,14.63],[1.031,14.77],[1.032,14.52],[1.033,14.72],[1.034,14.86],[1.035,14.67],[1.036,14.50],[1.037,14.74],[1.0,14.88],[1.004,14.59],[1.008,14.73],[1.012,14.77],[1.016,14.73],[1.02,14.64],[1.024,14.70],[1.028,14.78],[1.032,14.70],[0.996,14.70],[1.01,14.40],[1.018,14.42],[1.006,15.02],[1.014,14.97],[1.026,14.44],[1.003,14.84],[1.011,14.73],[1.019,14.67],[1.027,14.73],[1.035,14.80]];
const pSeaPresDense = [[0.988,14.55],[0.998,14.545],[1.008,14.555],[1.018,14.55],[1.028,14.545],[0.993,14.61],[1.003,14.615],[1.013,14.605],[1.023,14.61],[1.033,14.615],[0.988,14.67],[0.998,14.675],[1.008,14.665],[1.018,14.67],[1.028,14.675],[1.036,14.665],[0.993,14.73],[1.003,14.735],[1.013,14.725],[1.023,14.73],[1.033,14.735],[0.988,14.79],[0.998,14.795],[1.008,14.785],[1.018,14.79],[1.028,14.795],[0.995,14.85],[1.005,14.855],[1.015,14.845],[1.025,14.85],[1.0,14.91],[1.012,14.915],[1.022,14.905],[0.975,14.70],[0.965,14.74],[0.955,14.69],[0.97,14.66],[0.98,14.76]];
const pSeaPresFit = [[0.883,14.79],[0.9,14.74],[0.92,14.72],[0.95,14.71],[0.97,14.725],[0.99,14.7],[1.0,14.71],[1.01,14.71],[1.02,14.71],[1.03,14.73],[1.037,14.68]];

const pSeaTemp = [[283.5,14.93],[285.0,14.77],[285.8,14.63],[286.3,14.83],[286.7,14.71],[287.0,14.55],[287.3,14.92],[287.6,14.68],[287.9,14.79],[288.2,14.61],[288.5,15.05],[288.8,14.74],[289.1,14.50],[289.4,14.85],[289.7,14.66],[290.0,14.77],[290.3,14.59],[290.6,14.88],[290.9,14.71],[291.2,14.45],[291.5,14.80],[291.8,14.65],[292.1,14.94],[292.4,14.73],[292.7,14.56],[293.0,14.83],[293.3,14.69],[293.6,14.38],[293.9,14.78],[294.2,14.62],[294.5,14.87],[294.8,14.71],[295.1,14.53],[295.4,14.81],[295.7,14.66],[296.0,15.02],[296.3,14.75],[296.6,14.58],[296.9,14.84],[297.2,14.69],[297.5,14.47],[297.8,14.79],[298.1,14.63],[298.4,14.90],[298.7,14.72],[299.0,14.55],[299.3,14.82],[299.6,14.67],[299.9,14.76],[300.2,14.51],[300.5,14.86],[300.8,14.70],[301.1,14.60],[301.4,14.80],[301.7,15.1],[302.0,14.73],[302.3,14.62],[302.6,14.83],[303.0,14.70],[303.5,14.77],[304.0,14.96],[289.0,15.15],[297.0,15.0],[291.0,14.41],[299.5,14.40],[288.0,14.72],[289.5,14.70],[291.0,14.73],[292.5,14.69],[294.0,14.74],[295.5,14.70],[297.0,14.73],[298.5,14.69],[300.0,14.73],[301.5,14.70],[288.7,14.86],[290.2,14.84],[291.9,14.88],[293.4,14.86],[295.0,14.89],[296.5,14.86],[298.2,14.85],[299.8,14.88],[301.2,14.86],[302.8,14.88],[288.4,14.57],[290.8,14.62],[292.2,14.60],[294.6,14.59],[296.2,14.63],[297.9,14.58],[299.2,14.61],[300.9,14.57],[302.2,14.55],[303.3,14.60]];
const pSeaTempDense = [[287.5,14.56],[290,14.555],[292.5,14.565],[295,14.56],[297.5,14.555],[300,14.565],[302.5,14.56],[286.5,14.63],[289,14.635],[291.5,14.625],[294,14.63],[296.5,14.635],[299,14.625],[301.5,14.63],[287.8,14.70],[290.3,14.705],[292.8,14.695],[295.3,14.70],[297.8,14.705],[300.3,14.695],[302.8,14.70],[286.8,14.77],[289.3,14.775],[291.8,14.765],[294.3,14.77],[296.8,14.775],[299.3,14.765],[301.8,14.77],[288,14.84],[290.5,14.845],[293,14.835],[295.5,14.84],[298,14.845],[300.5,14.835],[303,14.84],[289.5,14.91],[293.5,14.915],[297.5,14.905],[301,14.91]];
const pSeaTempFit = [[283.5,14.93],[284.5,14.8],[285.5,14.7],[286.5,14.69],[287.5,14.71],[288,14.705],[289,14.72],[291,14.71],[293,14.7],[295,14.7],[297,14.69],[299,14.72],[301,14.72],[303,14.73],[304,14.74]];

const pWindDir = [[1,14.76],[4,14.60],[8,14.85],[12,14.68],[16,14.52],[20,14.79],[24,14.70],[28,14.98],[32,14.63],[36,14.75],[40,14.55],[44,14.82],[48,14.67],[52,14.90],[56,14.74],[60,15.02],[64,14.78],[68,14.61],[72,14.86],[76,14.70],[80,14.48],[84,14.77],[88,14.64],[92,14.83],[96,14.72],[100,14.56],[104,14.80],[108,14.66],[112,14.43],[116,14.75],[120,14.69],[124,14.88],[128,14.62],[132,14.78],[136,14.54],[140,14.84],[144,14.73],[148,14.96],[152,14.66],[156,14.77],[160,14.59],[164,14.81],[168,14.70],[172,14.50],[176,14.76],[180,14.64],[184,14.87],[188,14.71],[192,14.57],[196,14.80],[200,14.92],[204,14.74],[208,14.63],[212,14.84],[216,14.69],[220,14.53],[224,14.78],[228,14.67],[232,14.89],[236,14.72],[240,14.60],[244,14.79],[248,14.46],[252,14.75],[256,14.65],[260,14.85],[264,14.70],[268,14.55],[272,14.80],[276,14.68],[280,14.91],[284,14.73],[288,14.58],[292,14.83],[296,14.66],[300,14.77],[304,14.52],[308,14.81],[312,14.69],[316,14.98],[320,14.78],[324,14.62],[328,14.86],[332,14.71],[336,14.56],[340,14.79],[344,14.66],[348,14.74],[352,14.60],[356,14.72],[359,14.68],[30,15.19],[115,14.99],[145,15.03],[282,15.03],[325,14.38],[10,14.72],[50,14.72],[90,14.70],[130,14.71],[170,14.73],[210,14.70],[250,14.72],[290,14.71],[330,14.73],[350,14.70],[70,14.74],[190,14.69],[230,14.73],[270,14.72]];
const pWindDirDense = [[15,14.56],[55,14.555],[95,14.565],[135,14.56],[175,14.555],[215,14.565],[255,14.56],[295,14.555],[335,14.565],[0,14.63],[35,14.635],[75,14.625],[115,14.635],[155,14.63],[195,14.625],[235,14.635],[275,14.63],[315,14.625],[352,14.63],[20,14.70],[60,14.705],[100,14.695],[140,14.705],[180,14.70],[220,14.695],[260,14.705],[300,14.70],[340,14.695],[5,14.77],[45,14.775],[85,14.765],[125,14.775],[165,14.77],[205,14.765],[245,14.775],[285,14.77],[325,14.765],[357,14.77],[25,14.84],[65,14.845],[105,14.835],[145,14.845],[185,14.84],[225,14.835],[265,14.845],[305,14.84],[345,14.835],[40,14.91],[120,14.905],[200,14.915],[280,14.91],[330,14.905]];
const pWindDirFit = [[0,14.71],[30,14.72],[60,14.77],[90,14.7],[120,14.71],[140,14.75],[170,14.7],[200,14.76],[230,14.72],[260,14.71],[300,14.72],[320,14.76],[340,14.71],[360,14.69]];

// ---------------- LAYOUT ----------------
const svg = d3.select('#c');
const FONT = '"Liberation Sans",Arial,sans-serif';

function panel(o){
  const x = d3.scaleLinear().domain(o.xd).range([o.left, o.left + o.w]);
  const y = d3.scaleLinear().domain(o.yd).range([o.top + o.h, o.top]);
  const g = svg.append('g');
  g.append('g').selectAll('line').data(o.xt).join('line')
    .attr('x1', d => x(d)).attr('x2', d => x(d)).attr('y1', o.top).attr('y2', o.top + o.h)
    .attr('stroke', '#e1e1e1').attr('stroke-width', 1);
  g.append('g').selectAll('line').data(o.yt).join('line')
    .attr('x1', o.left).attr('x2', o.left + o.w).attr('y1', d => y(d)).attr('y2', d => y(d))
    .attr('stroke', '#e1e1e1').attr('stroke-width', 1);
  g.append('g').selectAll('circle').data(o.pts).join('circle')
    .attr('cx', d => x(d[0])).attr('cy', d => y(d[1])).attr('r', 3.5)
    .attr('fill', '#0072BD').attr('fill-opacity', 0.5);
  g.append('path').datum(o.fit)
    .attr('d', d3.line().x(d => x(d[0])).y(d => y(d[1])))
    .attr('fill', 'none').attr('stroke', '#ff0000').attr('stroke-width', 2).attr('stroke-linejoin', 'round');
  const fmt = d => String(d);
  const ax = g.append('g').attr('transform', `translate(0,${o.top + o.h})`)
    .call(d3.axisBottom(x).tickValues(o.xt).tickSize(-3).tickSizeOuter(0).tickPadding(o.xpad).tickFormat(fmt));
  const ay = g.append('g').attr('transform', `translate(${o.left},0)`)
    .call(d3.axisLeft(y).tickValues(o.yt).tickSize(-3).tickSizeOuter(0).tickPadding(o.ypad).tickFormat(fmt));
  [ax, ay].forEach(a => {
    a.select('.domain').attr('stroke', '#262626');
    a.selectAll('.tick line').attr('stroke', '#262626');
    a.selectAll('text').attr('fill', '#404040').style('font-size', '12px').style('font-family', FONT);
  });
  g.append('text').attr('x', o.left + o.w / 2).attr('y', o.top - 8)
    .attr('text-anchor', 'middle').style('font-size', '17.5px').style('font-weight', 'bold')
    .attr('fill', '#000').text(o.title);
  g.append('text').attr('x', o.left + o.w / 2).attr('y', o.top + o.h + 43)
    .attr('text-anchor', 'middle').style('font-size', '18px').attr('fill', '#404040').text(o.xlabel);
  if (o.exp) {
    const t = g.append('text').attr('x', o.left + o.w - 1).attr('y', o.top + o.h + 40)
      .attr('text-anchor', 'end').style('font-size', '12px').attr('fill', '#555');
    t.append('tspan').text('×10');
    t.append('tspan').attr('dy', -5).style('font-size', '8.5px').text(o.exp);
  }
  const yl = g.append('text')
    .attr('transform', `translate(${o.left - o.ylOff},${o.top + o.h / 2}) rotate(-90)`)
    .attr('text-anchor', 'middle').attr('dy', '0.35em')
    .style('font-size', '18.5px').attr('fill', '#404040');
  yl.append('tspan').text(yLabel);
  yl.append('tspan').attr('dy', 4).style('font-size', '12px').text('2');
  yl.append('tspan').attr('dy', -4).text(' Emissions');
}

svg.append('text').attr('x', 294).attr('y', 26).attr('text-anchor', 'middle')
  .style('font-size', '22.5px').attr('fill', '#000').text(figTitles[0]);
svg.append('text').attr('x', 887).attr('y', 30).attr('text-anchor', 'middle')
  .style('font-size', '22.5px').attr('fill', '#000').text(figTitles[1]);

const dCols = [55, 247, 440], dRows = [83, 225.5, 368], dW = 128, dH = 63;
const yDomDecel = [7.533, 7.893];
const decel = [
  {title:'Qcell (0.05)', xlabel:'Qcell', pts:dQcell.concat(dQcellDense), fit:dQcellFit, xd:[100,114], xt:[100,105,110]},
  {title:'Uw0 (0.01)', xlabel:'Uw0', pts:dUw0.concat(dUw0Dense), fit:dUw0Fit, xd:[0,50], xt:[0,50]},
  {title:'Vcp (-0.90)', xlabel:'Vcp', pts:dVcp.concat(dVcpDense), fit:dVcpFit, xd:[-0.28,0.295], xt:[-0.2,0,0.2]},
  {title:'Tw0 (-0.01)', xlabel:'Tw0', pts:dTw0.concat(dTw0Dense), fit:dTw0Fit, xd:[0,11], xt:[0,5,10]},
  {title:'mass (0.17)', xlabel:'mass', pts:dMass.concat(dMassDense), fit:dMassFit, xd:[3,4], xt:[3,3.5,4], exp:'4'},
  {title:'H0 (-0.25)', xlabel:'H0', pts:dH0.concat(dH0Dense), fit:dH0Fit, xd:[0,6.4], xt:[0,5]},
  {title:'wave dir (0.02)', xlabel:'wave_dir', pts:dWaveDir.concat(dWaveDirDense), fit:dWaveDirFit, xd:[0,400], xt:[0,200,400]},
  {title:'sea pres (-0.00)', xlabel:'sea_pres', pts:dSeaPres.concat(dSeaPresDense), fit:dSeaPresFit, xd:[0.876,1.03], xt:[0.9,0.95,1]},
  {title:'sea temp (0.00)', xlabel:'sea_temp', pts:dSeaTemp.concat(dSeaTempDense), fit:dSeaTempFit, xd:[280,304], xt:[280,290,300]}
];
decel.forEach((p, i) => panel(Object.assign({}, p, {
  left: dCols[i % 3], top: dRows[Math.floor(i / 3)], w: dW, h: dH,
  yd: yDomDecel, yt: yTicksDecel, xpad: 7.5, ypad: 8, ylOff: 35
})));

const pCols = [658, 848, 1038], pW = 123;
const pRowTop = [84.3, 228], pRowH = [64, 60];
const yDomPort = [[14.346, 15.244], [14.32, 15.2]];
const port = [
  {title:'Qcell (-0.99)', xlabel:'Qcell', pts:pQcell.concat(pQcellDense), fit:pQcellFit, xd:[100,113.3], xt:[100,105,110]},
  {title:'mass (-0.11)', xlabel:'mass', pts:pMass.concat(pMassDense), fit:pMassFit, xd:[3,4], xt:[3,3.5,4], exp:'4'},
  {title:'wave dir (0.05)', xlabel:'wave_dir', pts:pWaveDir.concat(pWaveDirDense), fit:pWaveDirFit, xd:[0,400], xt:[0,200,400]},
  {title:'sea pres (-0.01)', xlabel:'sea_pres', pts:pSeaPres.concat(pSeaPresDense), fit:pSeaPresFit, xd:[0.883,1.038], xt:[0.9,0.95,1]},
  {title:'sea temp (0.03)', xlabel:'sea_temp', pts:pSeaTemp.concat(pSeaTempDense), fit:pSeaTempFit, xd:[280,304], xt:[280,290,300]},
  {title:'wind dir (-0.01)', xlabel:'wind_dir', pts:pWindDir.concat(pWindDirDense), fit:pWindDirFit, xd:[0,400], xt:[0,200,400]}
];
port.forEach((p, i) => {
  const r = Math.floor(i / 3);
  panel(Object.assign({}, p, {
    left: pCols[i % 3], top: pRowTop[r], w: pW, h: pRowH[r],
    yd: yDomPort[r], yt: yTicksPort, xpad: r === 0 ? 9.5 : 7.5, ypad: 7, ylOff: 46
  }));
});
</script>
</body></html>
